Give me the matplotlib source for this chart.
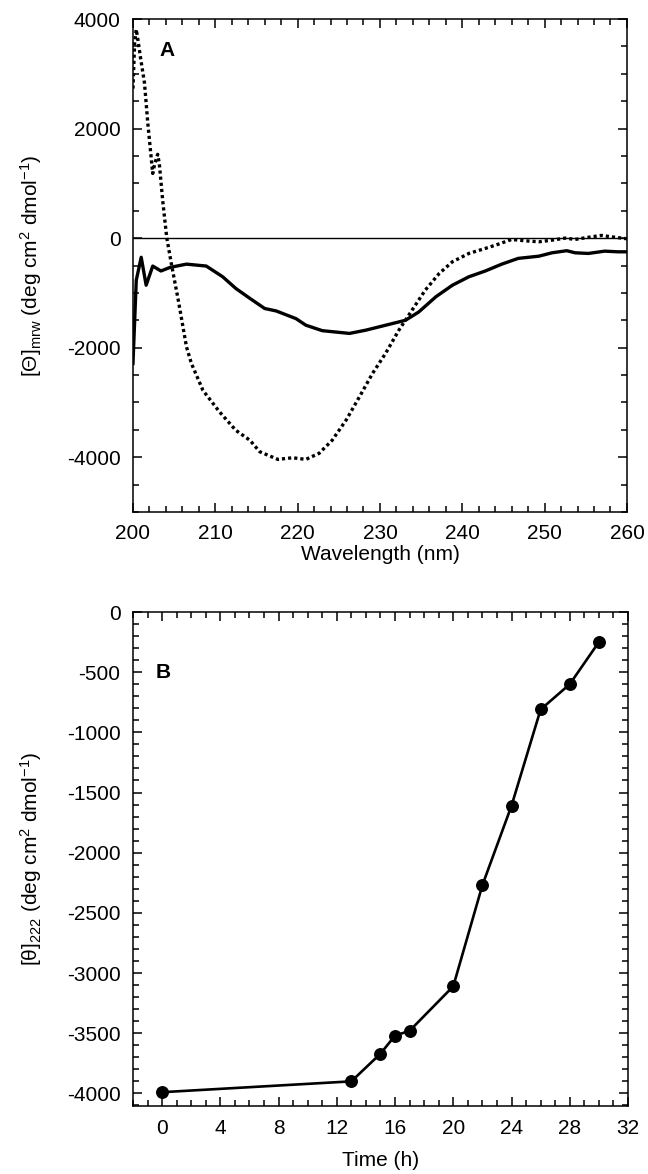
#CDスペクトル (A) と222 nmの経時変化 (B)

import matplotlib
matplotlib.use('Agg')
import matplotlib.pyplot as plt
from matplotlib.ticker import MultipleLocator

plt.rcParams['font.family'] = ['Liberation Sans', 'DejaVu Sans']
plt.rcParams['mathtext.fontset'] = 'custom'
plt.rcParams['mathtext.rm'] = 'Liberation Sans'
plt.rcParams['mathtext.it'] = 'Liberation Sans'
plt.rcParams['axes.unicode_minus'] = False
plt.rcParams['font.size'] = 15

# パネルA 実線
wl_solid = [200.0, 200.4, 201.0, 201.6, 202.4, 203.4, 204.5, 206.5, 208.9, 210.9,
            212.5, 214.2, 216.0, 217.4, 219.8, 221.0, 223.0, 226.3, 228.3, 230.7,
            233.1, 234.7, 236.8, 238.8, 240.8, 242.8, 244.8, 246.8, 249.3, 250.9,
            252.7, 253.7, 255.3, 257.3, 258.9, 260.0]
cd_solid = [-2290, -770, -350, -860, -510, -600, -535, -475, -510, -706,
            -920, -1100, -1285, -1330, -1470, -1590, -1690, -1740, -1680, -1590,
            -1500, -1350, -1070, -860, -706, -600, -475, -370, -330, -268,
            -230, -268, -280, -238, -250, -250]

# パネルA 点線
wl_dot = [200.0, 200.2, 200.4, 200.6, 200.9, 201.4, 201.8, 202.4, 202.65, 203.0,
          203.2, 203.6, 204.1, 204.7, 205.5, 206.5, 207.1, 208.5, 210.5, 212.5,
          214.2, 215.4, 217.6, 219.4, 221.0, 222.6, 224.2, 225.9, 227.5, 229.1,
          230.7, 232.3, 233.9, 235.5, 237.2, 238.8, 240.8, 242.8, 244.4, 246.0,
          247.6, 249.3, 250.9, 252.5, 253.7, 255.7, 256.9, 258.1, 260.0]
cd_dot = [2730, 3560, 3810, 3620, 3310, 2830, 2100, 1180, 1360, 1530,
          1360, 700, 10, -500, -1130, -1985, -2290, -2780, -3170, -3510,
          -3690, -3900, -4040, -4010, -4040, -3930, -3690, -3320, -2900, -2470,
          -2100, -1680, -1315, -950, -645, -432, -280, -188, -110, -24,
          -49, -67, -37, 0, -24, 24, 49, 24, -12]

# パネルB
time_h = [0, 13, 15, 16, 17, 20, 22, 24, 26, 28, 30]
theta222 = [-3990, -3900, -3670, -3520, -3480, -3110, -2270, -1610, -810, -600, -250]

fig = plt.figure(figsize=(6.48, 11.74), dpi=100)
axA = fig.add_axes([0.2052, 0.5639, 0.7623, 0.4199])
axB = fig.add_axes([0.2052, 0.0579, 0.7639, 0.4208])

def style(ax):
    for s in ax.spines.values():
        s.set_linewidth(1.1)
    ax.tick_params(which='both', direction='in', top=True, right=True, width=1.1, pad=9)
    ax.tick_params(which='major', length=6.5)
    ax.tick_params(which='minor', length=4)

axA.axhline(0, color='black', lw=1.0)
axA.plot(wl_solid, cd_solid, color='black', lw=2.4)
axA.plot(wl_dot, cd_dot, color='black', lw=2.4, dashes=(0.95, 0.9))
axA.set_xlim(200, 260)
axA.set_ylim(-5000, 4000)
axA.xaxis.set_major_locator(MultipleLocator(10))
axA.xaxis.set_minor_locator(MultipleLocator(2))
axA.yaxis.set_major_locator(MultipleLocator(2000))
axA.yaxis.set_minor_locator(MultipleLocator(500))
axA.set_xlabel('Wavelength (nm)', labelpad=1)
axA.set_ylabel(r'[$\Theta$]$_{\mathrm{mrw}}$ (deg cm$^{2}$ dmol$^{-1}$)')
axA.yaxis.set_label_coords(-0.18, 0.5)
axA.text(204.1, 3420, 'A', fontsize=15, fontweight='bold', ha='center', va='center')
style(axA)

axB.plot(time_h, theta222, color='black', lw=1.9, marker='o', markersize=8.3)
axB.set_xlim(-2, 32)
axB.set_ylim(-4105, 0)
axB.xaxis.set_major_locator(MultipleLocator(4))
axB.xaxis.set_minor_locator(MultipleLocator(1))
axB.yaxis.set_major_locator(MultipleLocator(500))
axB.yaxis.set_minor_locator(MultipleLocator(100))
axB.set_xlabel('Time (h)', labelpad=10)
axB.set_ylabel(r'[$\theta$]$_{222}$ (deg cm$^{2}$ dmol$^{-1}$)')
axB.yaxis.set_label_coords(-0.18, 0.5)
axB.text(0.1, -500, 'B', fontsize=15, fontweight='bold', ha='center', va='center')
style(axB)

fig.savefig('out.png', dpi=100)
